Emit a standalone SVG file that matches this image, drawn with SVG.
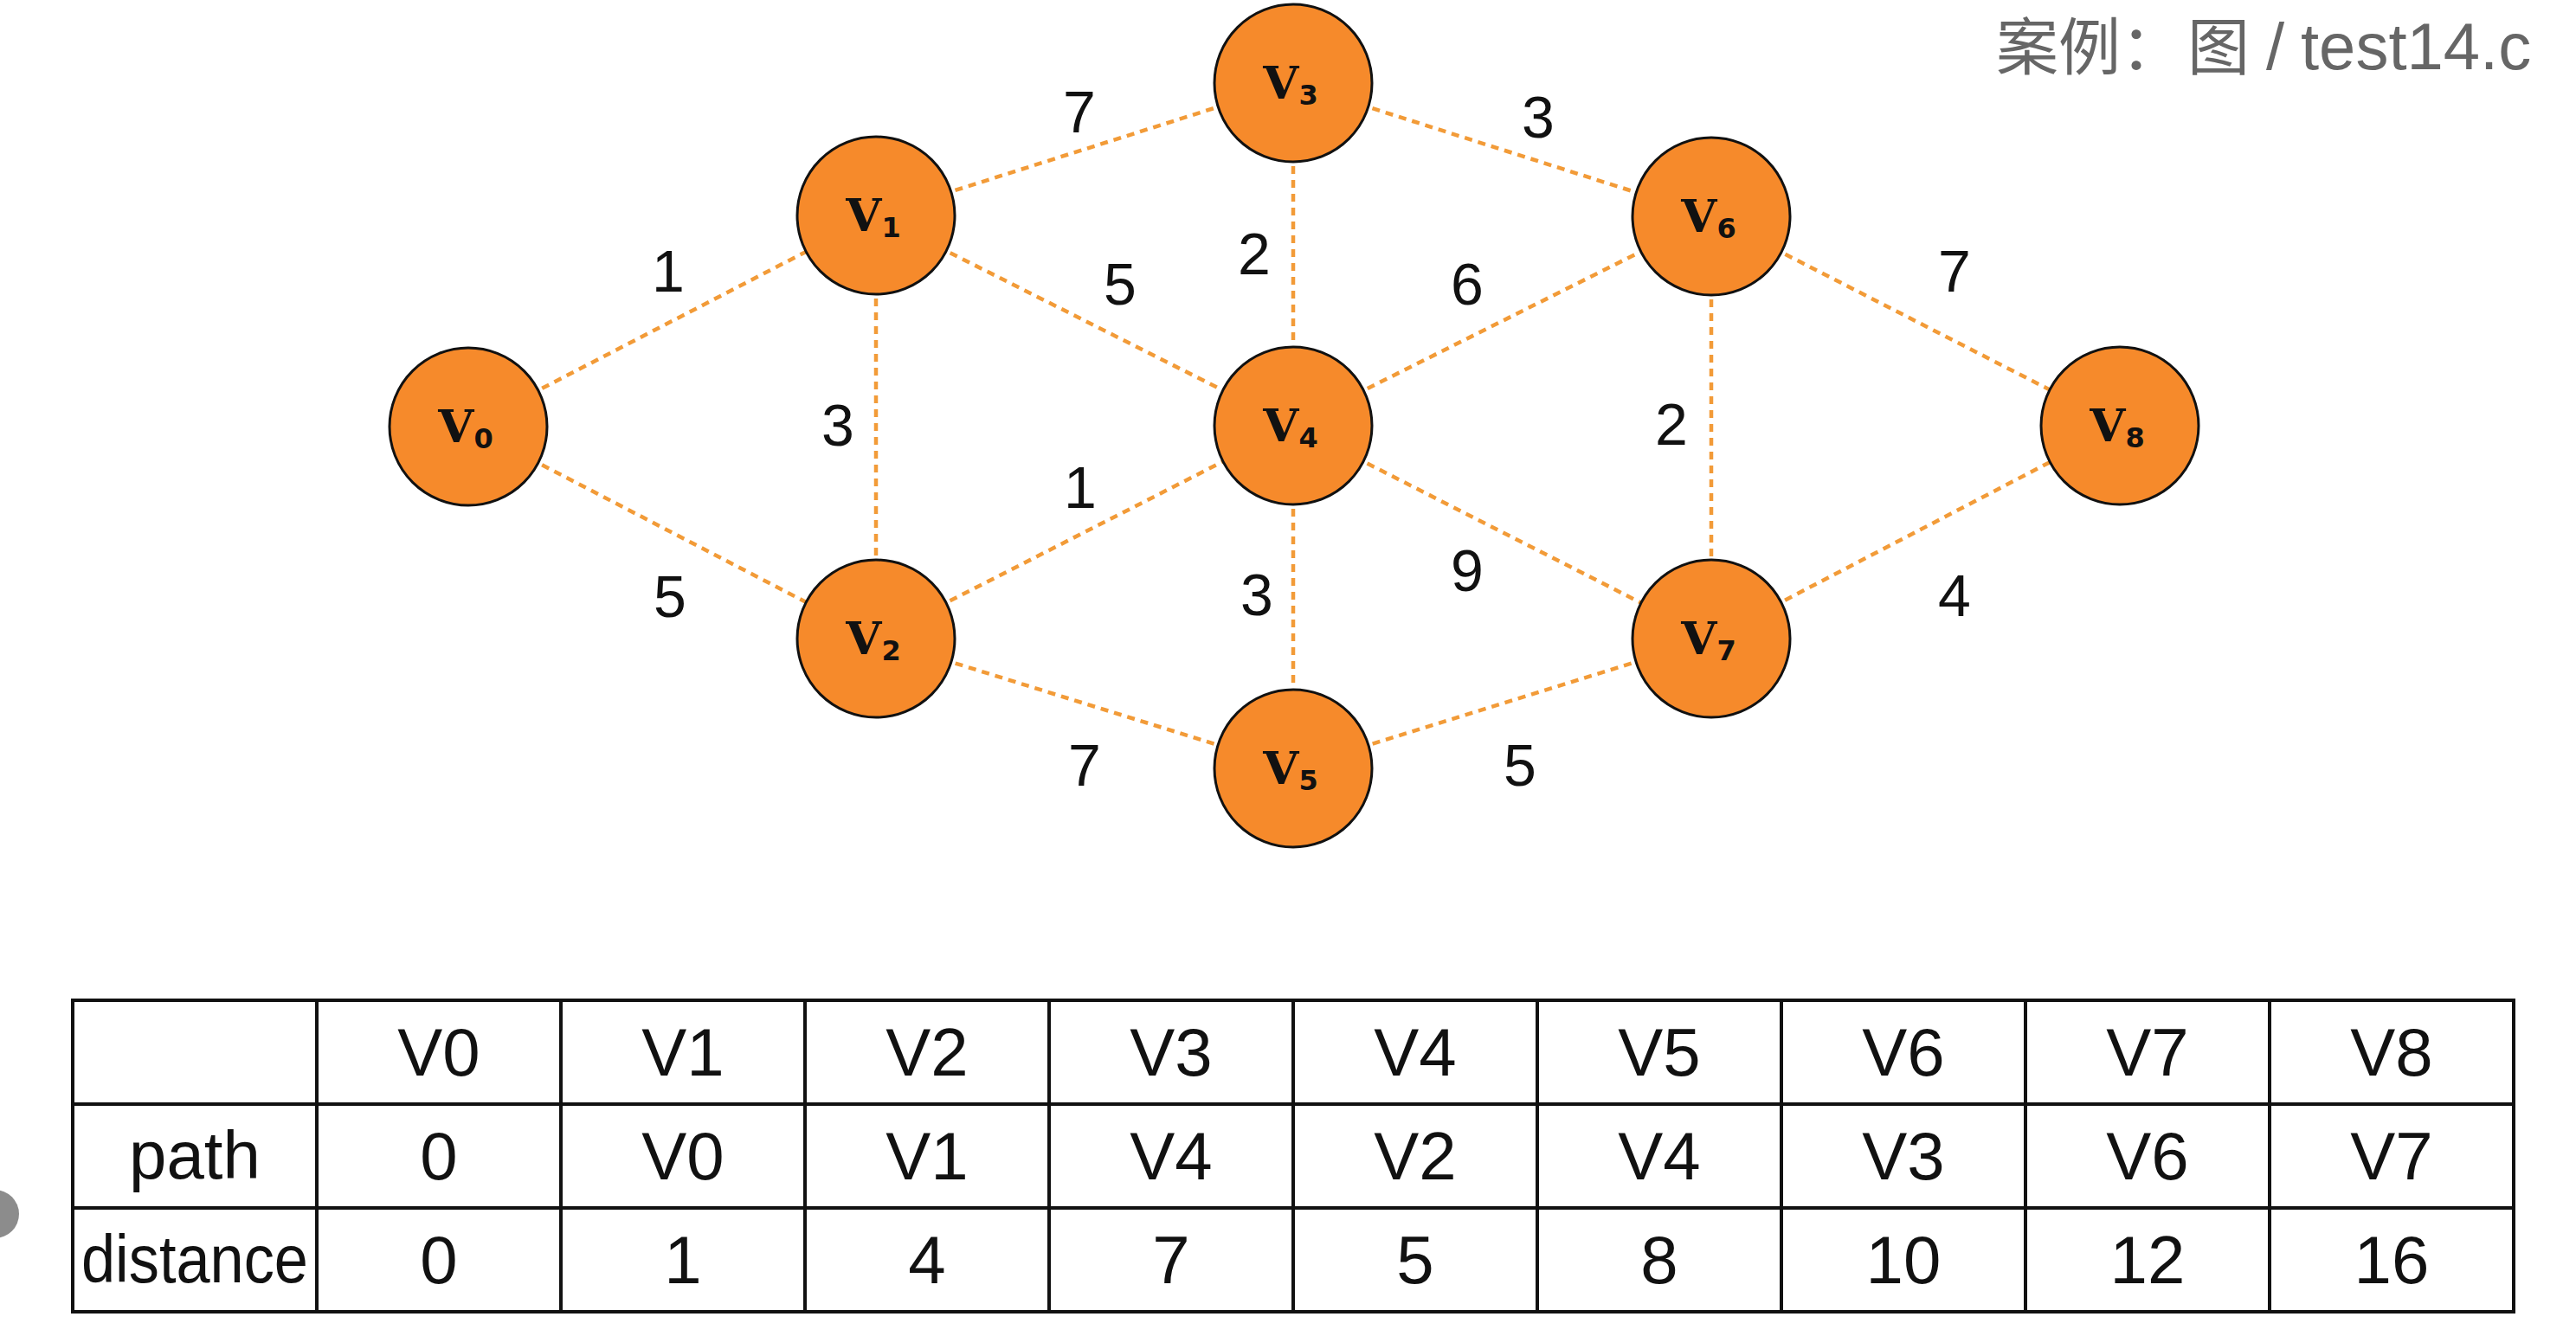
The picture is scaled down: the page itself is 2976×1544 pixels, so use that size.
<svg xmlns="http://www.w3.org/2000/svg" width="2976" height="1544" viewBox="0 0 2976 1544">
<style>
.edge{stroke:#F29B38;stroke-width:4.5;stroke-dasharray:9 7;fill:none}
.node circle{fill:#F68A2B;stroke:#111;stroke-width:3}
.nl{font-family:"DejaVu Serif",serif;font-weight:bold;font-size:53px;fill:#111;text-anchor:middle}
.sub{font-family:"DejaVu Sans",sans-serif;font-weight:bold;font-size:32px}
.w{font-family:"Liberation Sans",Arial,sans-serif;font-size:68px;fill:#111;text-anchor:middle}
.tb{stroke:#111;stroke-width:4;fill:none}
.tt{font-family:"Liberation Sans",Arial,sans-serif;font-size:78px;fill:#111;text-anchor:middle}
.title{font-family:"Liberation Sans","Noto Sans CJK SC",sans-serif;font-size:76px;fill:#666}
.cjk{font-family:"Noto Sans CJK SC",sans-serif;font-size:72px}
</style>
<rect width="2976" height="1544" fill="#fff"/>
<g id="title"><text class="title" y="80"><tspan class="cjk" x="2306" y="80">案例：</tspan><tspan class="cjk" x="2527" y="80">图</tspan><tspan x="2618" y="80">/</tspan><tspan x="2658" y="80">test14.c</tspan></text></g>
<circle cx="-6" cy="1403" r="28" fill="#8c8c8c"/>
<g id="connectors">
<line class="edge" x1="541" y1="493" x2="1012" y2="249"/>
<line class="edge" x1="541" y1="493" x2="1012" y2="738"/>
<line class="edge" x1="1012" y1="249" x2="1012" y2="738"/>
<line class="edge" x1="1012" y1="249" x2="1494" y2="96"/>
<line class="edge" x1="1012" y1="249" x2="1494" y2="492"/>
<line class="edge" x1="1012" y1="738" x2="1494" y2="492"/>
<line class="edge" x1="1012" y1="738" x2="1494" y2="888"/>
<line class="edge" x1="1494" y1="96" x2="1494" y2="492"/>
<line class="edge" x1="1494" y1="492" x2="1494" y2="888"/>
<line class="edge" x1="1494" y1="96" x2="1977" y2="250"/>
<line class="edge" x1="1494" y1="492" x2="1977" y2="250"/>
<line class="edge" x1="1494" y1="492" x2="1977" y2="738"/>
<line class="edge" x1="1494" y1="888" x2="1977" y2="738"/>
<line class="edge" x1="1977" y1="250" x2="1977" y2="738"/>
<line class="edge" x1="1977" y1="250" x2="2449" y2="492"/>
<line class="edge" x1="1977" y1="738" x2="2449" y2="492"/>
</g>
<g id="weights">
<text class="w" x="772" y="337">1</text>
<text class="w" x="774" y="713">5</text>
<text class="w" x="968" y="515">3</text>
<text class="w" x="1247" y="153">7</text>
<text class="w" x="1294" y="352">5</text>
<text class="w" x="1248" y="587">1</text>
<text class="w" x="1253" y="908">7</text>
<text class="w" x="1449" y="317">2</text>
<text class="w" x="1452" y="711">3</text>
<text class="w" x="1777" y="159">3</text>
<text class="w" x="1695" y="352">6</text>
<text class="w" x="1695" y="683">9</text>
<text class="w" x="1756" y="908">5</text>
<text class="w" x="1931" y="514">2</text>
<text class="w" x="2258" y="337">7</text>
<text class="w" x="2258" y="712">4</text>
</g>
<g id="V0" class="node"><circle cx="541" cy="493" r="91"/><text class="nl" x="538" y="511">V<tspan class="sub" dy="7">0</tspan></text></g>
<g id="V1" class="node"><circle cx="1012" cy="249" r="91"/><text class="nl" x="1009" y="267">V<tspan class="sub" dy="7">1</tspan></text></g>
<g id="V2" class="node"><circle cx="1012" cy="738" r="91"/><text class="nl" x="1009" y="756">V<tspan class="sub" dy="7">2</tspan></text></g>
<g id="V3" class="node"><circle cx="1494" cy="96" r="91"/><text class="nl" x="1491" y="114">V<tspan class="sub" dy="7">3</tspan></text></g>
<g id="V4" class="node"><circle cx="1494" cy="492" r="91"/><text class="nl" x="1491" y="510">V<tspan class="sub" dy="7">4</tspan></text></g>
<g id="V5" class="node"><circle cx="1494" cy="888" r="91"/><text class="nl" x="1491" y="906">V<tspan class="sub" dy="7">5</tspan></text></g>
<g id="V6" class="node"><circle cx="1977" cy="250" r="91"/><text class="nl" x="1974" y="268">V<tspan class="sub" dy="7">6</tspan></text></g>
<g id="V7" class="node"><circle cx="1977" cy="738" r="91"/><text class="nl" x="1974" y="756">V<tspan class="sub" dy="7">7</tspan></text></g>
<g id="V8" class="node"><circle cx="2449" cy="492" r="91"/><text class="nl" x="2446" y="510">V<tspan class="sub" dy="7">8</tspan></text></g>
<g id="table">
<rect class="tb" x="84" y="1156" width="2820" height="360"/>
<line class="tb" x1="84" y1="1276" x2="2904" y2="1276"/>
<line class="tb" x1="84" y1="1396" x2="2904" y2="1396"/>
<line class="tb" x1="366" y1="1156" x2="366" y2="1516"/>
<line class="tb" x1="648" y1="1156" x2="648" y2="1516"/>
<line class="tb" x1="930" y1="1156" x2="930" y2="1516"/>
<line class="tb" x1="1212" y1="1156" x2="1212" y2="1516"/>
<line class="tb" x1="1494" y1="1156" x2="1494" y2="1516"/>
<line class="tb" x1="1776" y1="1156" x2="1776" y2="1516"/>
<line class="tb" x1="2058" y1="1156" x2="2058" y2="1516"/>
<line class="tb" x1="2340" y1="1156" x2="2340" y2="1516"/>
<line class="tb" x1="2622" y1="1156" x2="2622" y2="1516"/>
<text class="tt" x="507" y="1243">V0</text><text class="tt" x="789" y="1243">V1</text><text class="tt" x="1071" y="1243">V2</text><text class="tt" x="1353" y="1243">V3</text><text class="tt" x="1635" y="1243">V4</text><text class="tt" x="1917" y="1243">V5</text><text class="tt" x="2199" y="1243">V6</text><text class="tt" x="2481" y="1243">V7</text><text class="tt" x="2763" y="1243">V8</text>
<text class="tt" x="225" y="1362">path</text><text class="tt" x="507" y="1363">0</text><text class="tt" x="789" y="1363">V0</text><text class="tt" x="1071" y="1363">V1</text><text class="tt" x="1353" y="1363">V4</text><text class="tt" x="1635" y="1363">V2</text><text class="tt" x="1917" y="1363">V4</text><text class="tt" x="2199" y="1363">V3</text><text class="tt" x="2481" y="1363">V6</text><text class="tt" x="2763" y="1363">V7</text>
<text class="tt" x="225" y="1482" textLength="262" lengthAdjust="spacingAndGlyphs">distance</text><text class="tt" x="507" y="1483">0</text><text class="tt" x="789" y="1483">1</text><text class="tt" x="1071" y="1483">4</text><text class="tt" x="1353" y="1483">7</text><text class="tt" x="1635" y="1483">5</text><text class="tt" x="1917" y="1483">8</text><text class="tt" x="2199" y="1483">10</text><text class="tt" x="2481" y="1483">12</text><text class="tt" x="2763" y="1483">16</text>
</g>
</svg>
